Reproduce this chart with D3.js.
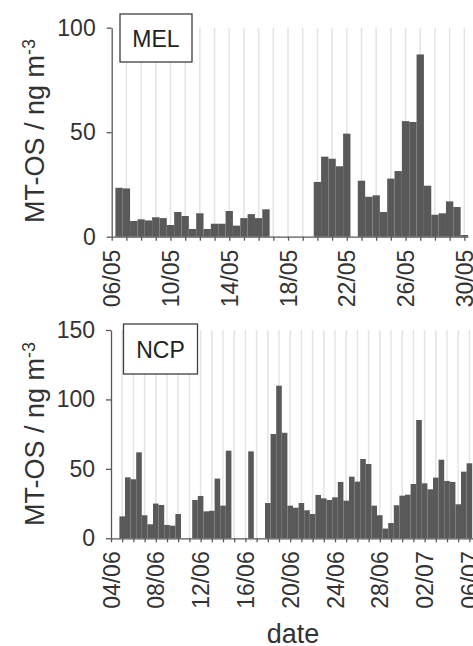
<html lang="en">
<head>
    <meta charset="utf-8">
    <title>MT-OS MEL / NCP</title>
    <style>
        body {
            margin: 0;
            background-color: white;
        }

        svg {
            display: block;
            font-family: "Liberation Sans", Arial, sans-serif;
        }

        .axis path,
        .axis line {
            fill: none;
            stroke: #595959;
            stroke-width: 1.3;
        }

        .axis text {
            fill: #333;
            font-size: 23px;
        }

        .grid line {
            stroke: #e4e4e4;
            stroke-width: 1.5;
        }

        .bar {
            fill: #595959;
        }

        .title {
            fill: #333;
            font-size: 27px;
        }

        .box rect {
            fill: white;
            stroke: #404040;
            stroke-width: 1.3;
        }

        .box text {
            fill: #222;
            font-size: 23px;
            text-anchor: middle;
        }
    </style>
</head>

<body>

<script src="https://cdnjs.cloudflare.com/ajax/libs/d3/7.8.5/d3.min.js"></script>

<script>
    // half-day samples, first bar centred at the start time, one bar every 12 h
    var melStart = "2014-05-06 12:00";
    var melValues = [23.4, 23.1, 7.5, 8.3, 7.8, 9.3, 8.9, 5.6, 11.8, 9.9, 3.7, 11.2, 3.7, 6.2, 6.2, 12.3,
                     5.3, 8.9, 10.8, 8.9, 13.1, null, null, null, null, null, null, 26.2, 38.3, 37.3, 33.7, 49.3,
                     null, 26.8, 19.1, 19.8, 11.8, 27.8, 31.4, 55.3, 54.9, 87.2, 24.4, 10.5, 11.2, 16.9, 14.2, 0.8];
    var melTickLabels = ["06/05", "10/05", "14/05", "18/05", "22/05", "26/05", "30/05"];
    var melYTicks = [0, 50, 100];

    var ncpStart = "2014-06-04 12:00";
    var ncpValues = [null, 15.8, 43.9, 42.5, 61.9, 16.6, 10.1, 25, 24, 9.6, 9.1, 17.5, null, null, 27.6, 30.5,
                     19.4, 19.8, 43, 23.5, 63.1, null, null, null, 62.6, null, null, 25.4, 75.1, 109.9, 76, 23.5,
                     22, 25.4, 20.2, 17.5, 31.2, 28.8, 27.6, 29.5, 40.6, 27.1, 44.4, 40.8, 57.1, 53.5, 23.5, 16.6,
                     7, 11, 23.8, 30.7, 31.4, 39.1, 85.2, 39.6, 35.3, 43.7, 56.6, 41.3, 40.6, 24.5, 48, 54];
    var ncpTickLabels = ["04/06", "08/06", "12/06", "16/06", "20/06", "24/06", "28/06", "02/07", "06/07"];
    var ncpYTicks = [0, 50, 100, 150];

    var parseTime = d3.timeParse("%Y-%m-%d %H:%M"),
        formatDay = d3.timeFormat("%d/%m");

    var halfDay = 12 * 3600 * 1000;

    var svg = d3.select("body")
                .append("svg")
                .attr("width", 473)
                .attr("height", 646);

    function drawPanel(p) {
        var start = parseTime(p.start);

        var data = p.values.map(function(v, i) {
            return { time: new Date(start.getTime() + i * halfDay), value: v };
        }).filter(function(d) { return d.value !== null; });

        var xScale = d3.scaleTime()
                        .domain([parseTime(p.domain[0]), parseTime(p.domain[1])])
                        .range([p.left, p.right]);

        var yScale = d3.scaleLinear()
                        .domain([0, p.yTicks[p.yTicks.length - 1]])
                        .range([p.bottom, p.top]);

        // grey day lines
        var days = d3.timeDay.range(d3.timeDay.offset(xScale.domain()[0], 1), xScale.domain()[1]);
        svg.append("g")
            .attr("class", "grid")
            .selectAll("line")
            .data(days)
            .enter()
            .append("line")
            .attr("x1", function(d) { return xScale(d); })
            .attr("x2", function(d) { return xScale(d); })
            .attr("y1", p.top)
            .attr("y2", p.bottom);

        svg.append("g")
            .selectAll("rect")
            .data(data)
            .enter()
            .append("rect")
            .attr("class", "bar")
            .attr("x", function(d) { return xScale(new Date(d.time.getTime() - halfDay / 2)); })
            .attr("width", function(d) {
                return xScale(new Date(d.time.getTime() + halfDay / 2)) - xScale(new Date(d.time.getTime() - halfDay / 2));
            })
            .attr("y", function(d) { return yScale(d.value); })
            .attr("height", function(d) { return yScale(0) - yScale(d.value); });

        var xAxis = d3.axisBottom(xScale)
                        .ticks(d3.timeDay.every(1))
                        .tickSize(4)
                        .tickSizeOuter(0)
                        .tickFormat(function(d) {
                            var s = formatDay(d);
                            return p.labels.indexOf(s) >= 0 ? s : "";
                        });

        svg.append("g")
            .attr("class", "x axis")
            .attr("transform", "translate(0," + p.bottom + ")")
            .call(xAxis)
            .selectAll("text")
            .attr("transform", "rotate(-90)")
            .attr("text-anchor", "end")
            .attr("x", -13)
            .attr("y", 0)
            .attr("dy", "0.35em");

        var yAxis = d3.axisLeft(yScale)
                        .tickValues(p.yTicks)
                        .tickSize(5)
                        .tickPadding(11)
                        .tickSizeOuter(0);

        svg.append("g")
            .attr("class", "y axis")
            .attr("transform", "translate(" + p.left + ",0)")
            .call(yAxis);

        // y title with superscript
        var title = svg.append("text")
                        .attr("class", "title")
                        .attr("text-anchor", "middle")
                        .attr("transform", "translate(44," + p.titleY + ") rotate(-90)");
        title.append("tspan").text("MT-OS / ng m");
        title.append("tspan")
            .attr("dy", "-0.5em")
            .attr("font-size", "18px")
            .text("-3");

        // site box
        var box = svg.append("g").attr("class", "box");
        box.append("rect")
            .attr("x", p.box[0])
            .attr("y", p.box[1])
            .attr("width", p.box[2])
            .attr("height", p.box[3]);
        box.append("text")
            .attr("x", p.box[0] + p.box[2] / 2)
            .attr("y", p.box[1] + p.box[3] / 2 + 8.5)
            .text(p.name);
    }

    drawPanel({
        name: "MEL",
        start: melStart,
        values: melValues,
        labels: melTickLabels,
        yTicks: melYTicks,
        domain: ["2014-05-06 00:00", "2014-05-30 06:00"],
        left: 111.7, right: 468, top: 27.7, bottom: 236.7,
        titleY: 131,
        box: [120, 14, 72, 48]
    });

    drawPanel({
        name: "NCP",
        start: ncpStart,
        values: ncpValues,
        labels: ncpTickLabels,
        yTicks: ncpYTicks,
        domain: ["2014-06-04 00:00", "2014-07-06 12:00"],
        left: 111, right: 475, top: 330, bottom: 538.3,
        titleY: 434,
        box: [123.5, 324, 74, 50]
    });

    svg.append("text")
        .attr("class", "title")
        .attr("x", 293)
        .attr("y", 643)
        .attr("text-anchor", "middle")
        .text("date");
</script>

</body>
</html>
